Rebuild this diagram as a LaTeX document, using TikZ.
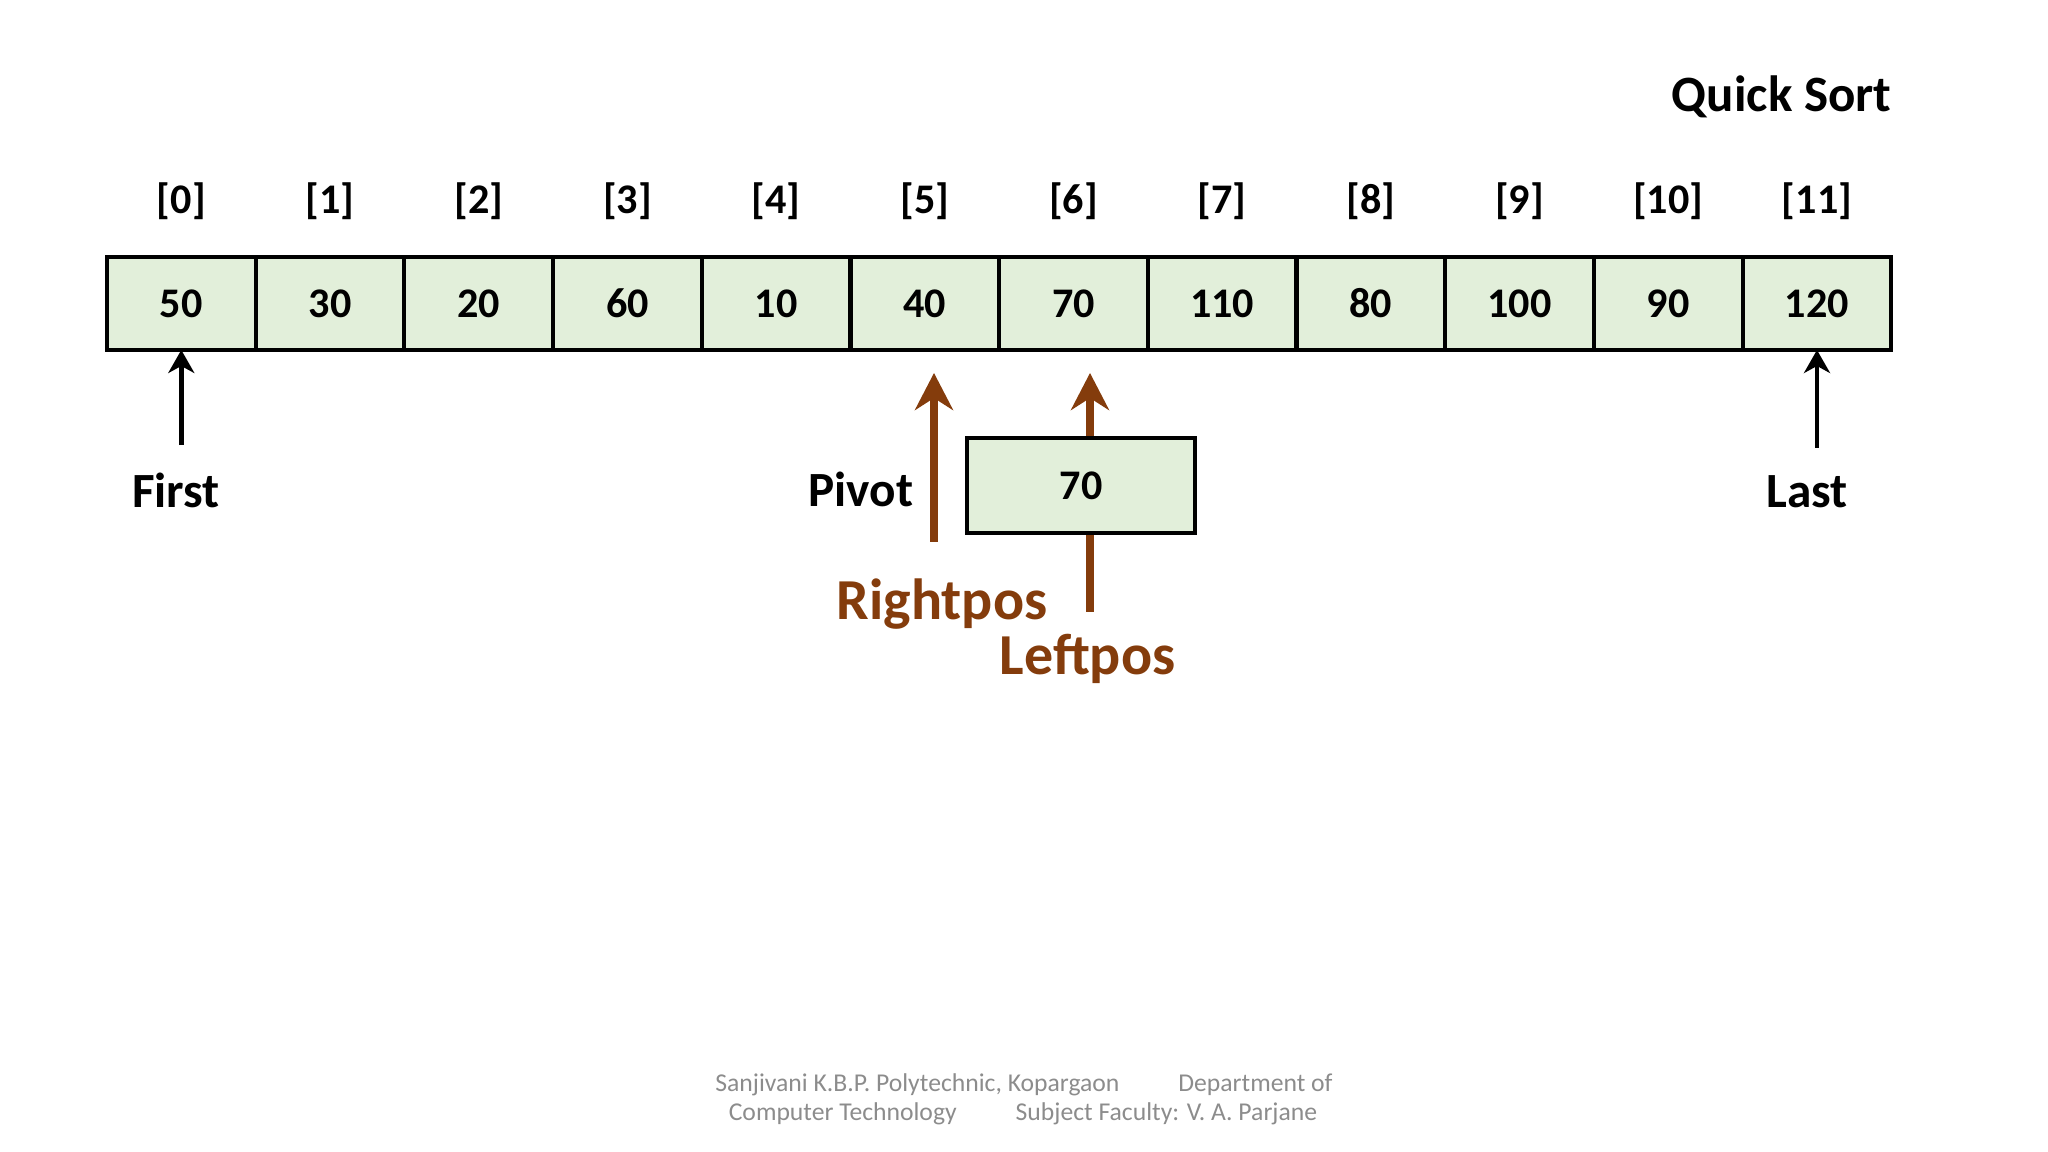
\documentclass[tikz,border=0pt]{standalone}
\usepackage{fontspec}
\setmainfont{Carlito}
\usepackage{xcolor}
\usepackage{tikz}
\usetikzlibrary{arrows.meta, positioning, calc}

\definecolor{cellgreen}{HTML}{E2EFDA}
\definecolor{ptrbrown}{HTML}{843C0C}
\definecolor{footgray}{HTML}{8C8C8C}

\begin{document}
\begin{tikzpicture}[node distance=0cm, >=Stealth]
        % Define styles
        \tikzstyle{cell} = [rectangle, draw=black, line width=1.2pt, fill=cellgreen, minimum width=1.487cm, minimum height=0.93cm, inner sep=0pt, outer sep=0pt, font=\fontsize{12}{14}\selectfont\bfseries]
        \tikzstyle{index} = [anchor=base, font=\fontsize{12}{14}\selectfont\bfseries]
        \tikzstyle{pointer} = [anchor=base, font=\fontsize{14}{16}\selectfont\bfseries]
        \tikzstyle{mover} = [anchor=base, text=ptrbrown, font=\fontsize{16.5}{19}\selectfont\bfseries]
        \tikzstyle{footer} = [anchor=base, text=footgray, font=\fontsize{7.3}{9}\selectfont]
        \tikzstyle{arrow} = [line width=1.4pt, -{Stealth[length=0.23cm, width=0.26cm, inset=0.07cm]}]
        \tikzstyle{brownarrow} = [line width=2.3pt, draw=ptrbrown, -{Stealth[length=0.37cm, width=0.38cm, inset=0.12cm]}]

        \useasboundingbox (0,0) rectangle (20.48,11.52);

        % Title
        \node (title) [pointer, anchor=base east, inner sep=0pt, font=\fontsize{14.5}{17}\selectfont\bfseries] at (18.92,10.40) {Quick Sort};

        % Array cells
        \node (c0) [cell] at (1.813,8.485) {50};
        \node (c1) [cell, right=0cm of c0] {30};
        \node (c2) [cell, right=0cm of c1] {20};
        \node (c3) [cell, right=0cm of c2] {60};
        \node (c4) [cell, right=0cm of c3] {10};
        \node (c5) [cell, right=0cm of c4] {40};
        \node (c6) [cell, right=0cm of c5] {70};
        \node (c7) [cell, right=0cm of c6] {110};
        \node (c8) [cell, right=0cm of c7] {80};
        \node (c9) [cell, right=0cm of c8] {100};
        \node (c10) [cell, right=0cm of c9] {90};
        \node (c11) [cell, right=0cm of c10] {120};

        % Indices
        \node (i0) [index] at ($(c0)+(0,0.90)$) {[0]};
        \node (i1) [index] at ($(c1)+(0,0.90)$) {[1]};
        \node (i2) [index] at ($(c2)+(0,0.90)$) {[2]};
        \node (i3) [index] at ($(c3)+(0,0.90)$) {[3]};
        \node (i4) [index] at ($(c4)+(0,0.90)$) {[4]};
        \node (i5) [index] at ($(c5)+(0,0.90)$) {[5]};
        \node (i6) [index] at ($(c6)+(0,0.90)$) {[6]};
        \node (i7) [index] at ($(c7)+(0,0.90)$) {[7]};
        \node (i8) [index] at ($(c8)+(0,0.90)$) {[8]};
        \node (i9) [index] at ($(c9)+(0,0.90)$) {[9]};
        \node (i10) [index] at ($(c10)+(0,0.90)$) {[10]};
        \node (i11) [index] at ($(c11)+(0,0.90)$) {[11]};

        % First / Last
        \node (first) [pointer] at (1.76,6.44) {First};
        \node (last) [pointer] at (18.07,6.44) {Last};
        \draw [arrow, shorten <=0.16cm] (c0.south |- first.north) -- (c0.south);
        \draw [arrow, shorten <=0.16cm] (c11.south |- last.north) -- (c11.south);

        % Pivot, Rightpos, Leftpos
        \node (pivot) [pointer] at (8.61,6.45) {Pivot};
        \coordinate (rtip) at (9.34,7.79);
        \coordinate (rtail) at (9.34,6.10);
        \coordinate (ltip) at (10.90,7.79);
        \coordinate (ltail) at (10.90,5.40);
        \draw [brownarrow] (rtail) -- (rtip);
        \draw [brownarrow] (ltail) -- (ltip);
        \node (pivotbox) [cell, minimum width=2.28cm, minimum height=0.95cm] at (10.81,6.665) {70};
        \node (rightpos) [mover] at (9.42,5.32) {Rightpos};
        \node (leftpos) [mover] at (10.875,4.77) {Leftpos};

        % Footer
        \node (foot1) [footer] at (10.24,0.60) {Sanjivani K.B.P. Polytechnic, Kopargaon\hspace{0.59cm}Department of};
        \node (foot2) [footer] at (10.23,0.31) {Computer Technology\hspace{0.59cm}Subject Faculty: V. A. Parjane};
    \end{tikzpicture}
\end{document}
